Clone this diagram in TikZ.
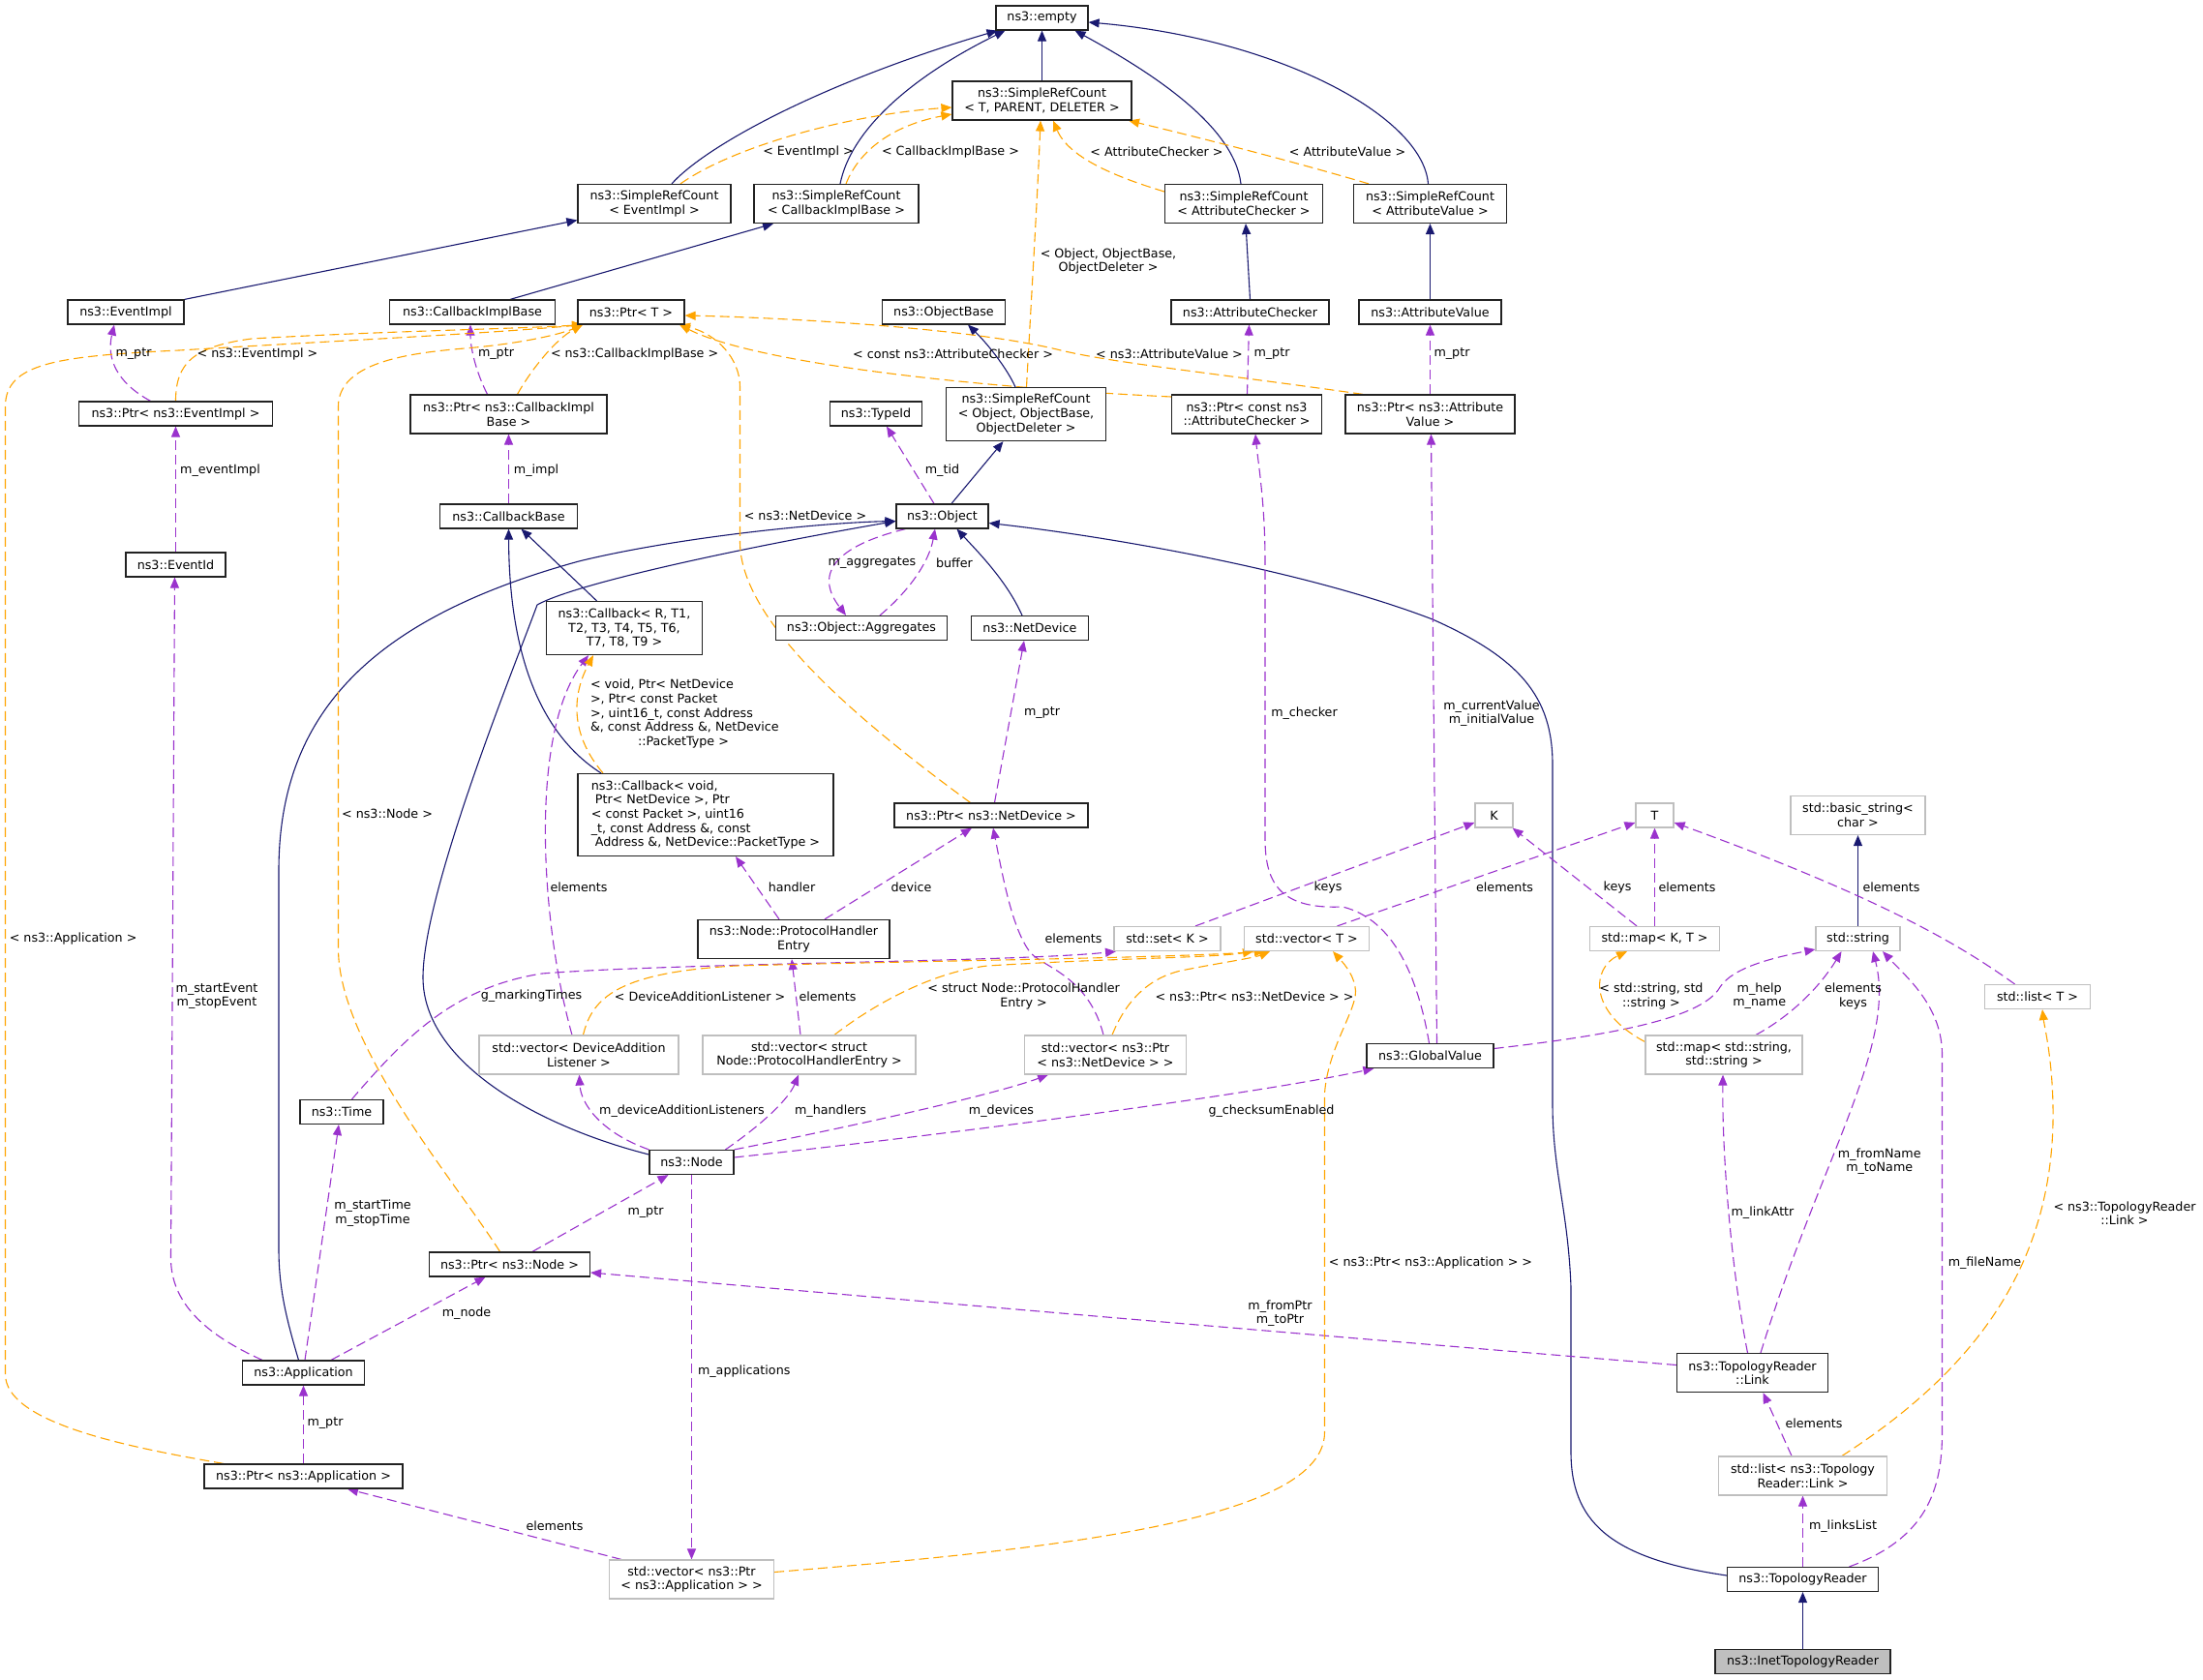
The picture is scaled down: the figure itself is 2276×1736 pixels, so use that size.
\documentclass[tikz,border=0pt]{standalone}
\usepackage{fontspec}
\setmainfont{DejaVu Sans}
\usetikzlibrary{arrows.meta}
\definecolor{eblue}{HTML}{191970}
\definecolor{epurple}{HTML}{9A32CD}
\definecolor{eorange}{HTML}{FFA500}
\definecolor{egray}{HTML}{BFBFBF}
\definecolor{eborder}{HTML}{222222}
\newcommand{\diagfont}{\fontsize{12.7}{14.6}\selectfont}
\pgfdeclarelayer{bglayer}
\pgfdeclarelayer{edgelayer}
\pgfsetlayers{bglayer,edgelayer,main}
\tikzset{
  box/.style={draw=eborder, line width=1.2pt, fill=white, inner sep=0pt, align=center, font=\diagfont},
  gbox/.style={box, draw=egray},
  myarrow/.style={-{Triangle[length=11pt,width=9pt]}},
  inh/.style={draw=eblue, line width=1.1pt, myarrow},
  use/.style={draw=epurple, line width=1.1pt, dash pattern=on 10pt off 5pt, myarrow},
  tpl/.style={draw=eorange, line width=1.1pt, dash pattern=on 10pt off 5pt, myarrow},
  lbl/.style={inner sep=0pt, align=center, font=\diagfont},
}
\begin{document}
\begin{tikzpicture}[x=1pt,y=-1pt]
\useasboundingbox (0,0) rectangle (2276,1736);
\begin{pgfonlayer}{bglayer}
\fill[white] (0,0) rectangle (2276,1736);
\end{pgfonlayer}

% ---------------- nodes ----------------
\node[box,minimum width=95pt,minimum height=25pt] (empty) at (1076.5,18.5) {ns3::empty};
\node[box,minimum width=185pt,minimum height=40pt] (srcT) at (1076.5,104) {ns3::SimpleRefCount\\< T, PARENT, DELETER >};
\node[box,minimum width=158pt,minimum height=40pt] (srcEv) at (676,210.5) {ns3::SimpleRefCount\\< EventImpl >};
\node[box,minimum width=170pt,minimum height=40pt] (srcCb) at (864,210.5) {ns3::SimpleRefCount\\< CallbackImplBase >};
\node[box,minimum width=163pt,minimum height=40pt] (srcAC) at (1285,210.5) {ns3::SimpleRefCount\\< AttributeChecker >};
\node[box,minimum width=158pt,minimum height=40pt] (srcAV) at (1477.5,210.5) {ns3::SimpleRefCount\\< AttributeValue >};
\node[box,minimum width=120pt,minimum height=25pt] (evimpl) at (130,322.5) {ns3::EventImpl};
\node[box,minimum width=171pt,minimum height=25pt] (cbib) at (488,322.5) {ns3::CallbackImplBase};
\node[box,minimum width=110pt,minimum height=25pt] (ptrT) at (652,322.5) {ns3::Ptr< T >};
\node[box,minimum width=127pt,minimum height=25pt] (objbase) at (975,322.5) {ns3::ObjectBase};
\node[box,minimum width=163pt,minimum height=25pt] (ac) at (1291.5,322.5) {ns3::AttributeChecker};
\node[box,minimum width=147pt,minimum height=25pt] (av) at (1477.5,322.5) {ns3::AttributeValue};
\node[box,minimum width=200pt,minimum height=25pt] (ptrEv) at (181.5,427.5) {ns3::Ptr< ns3::EventImpl >};
\node[box,minimum width=203pt,minimum height=40pt] (ptrCb) at (525.5,428) {ns3::Ptr< ns3::CallbackImpl\\Base >};
\node[box,minimum width=95pt,minimum height=25pt] (typeid) at (905,427.5) {ns3::TypeId};
\node[box,minimum width=165pt,minimum height=55pt] (srcObj) at (1060,428) {ns3::SimpleRefCount\\< Object, ObjectBase,\\ObjectDeleter >};
\node[box,minimum width=155pt,minimum height=40pt] (ptrAC) at (1288,428) {ns3::Ptr< const ns3\\::AttributeChecker >};
\node[box,minimum width=175pt,minimum height=40pt] (ptrAV) at (1477.5,428) {ns3::Ptr< ns3::Attribute\\Value >};
\node[box,minimum width=142pt,minimum height=25pt] (cbbase) at (525.5,533.5) {ns3::CallbackBase};
\node[box,minimum width=95pt,minimum height=25pt] (object) at (973.5,533.5) {ns3::Object};
\node[box,minimum width=103pt,minimum height=25pt] (eventid) at (181.5,583.5) {ns3::EventId};
\node[box,minimum width=161pt,minimum height=55pt] (cbR) at (645,649) {ns3::Callback< R, T1,\\T2, T3, T4, T5, T6,\\T7, T8, T9 >};
\node[box,minimum width=177pt,minimum height=25pt] (aggr) at (890,649) {ns3::Object::Aggregates};
\node[box,minimum width=121pt,minimum height=25pt] (netdev) at (1064,649) {ns3::NetDevice};
\node[box,align=left,minimum width=264pt,minimum height=85pt] (cbVoid) at (729,842) {ns3::Callback< void,\\\hspace*{4pt}Ptr< NetDevice >, Ptr\\< const Packet >, uint16\\\_t, const Address \&, const\\\hspace*{4pt}Address \&, NetDevice::PacketType >};
\node[box,minimum width=200pt,minimum height=25pt] (ptrND) at (1024,842.5) {ns3::Ptr< ns3::NetDevice >};
\node[gbox,minimum width=39pt,minimum height=25pt] (nK) at (1543.5,842.5) {K};
\node[gbox,minimum width=39pt,minimum height=25pt] (nT) at (1709.5,842.5) {T};
\node[gbox,minimum width=139pt,minimum height=40pt] (basicstr) at (1919.5,842.5) {std::basic\_string<\\char >};
\node[box,minimum width=198pt,minimum height=40pt] (phe) at (820,970.5) {ns3::Node::ProtocolHandler\\Entry};
\node[gbox,minimum width=110pt,minimum height=25pt] (setK) at (1206,970) {std::set< K >};
\node[gbox,minimum width=129pt,minimum height=25pt] (vecT) at (1350,970) {std::vector< T >};
\node[gbox,minimum width=134pt,minimum height=25pt] (mapKT) at (1709.5,970) {std::map< K, T >};
\node[gbox,minimum width=87pt,minimum height=25pt] (nString) at (1919.5,970) {std::string};
\node[gbox,minimum width=109pt,minimum height=25pt] (listT) at (2105,1030) {std::list< T >};
\node[gbox,minimum width=206pt,minimum height=40pt] (vecDAL) at (598,1090) {std::vector< DeviceAddition\\Listener >};
\node[gbox,minimum width=220pt,minimum height=40pt] (vecPHE) at (836,1090) {std::vector< struct\\Node::ProtocolHandlerEntry >};
\node[gbox,minimum width=167pt,minimum height=40pt] (vecND) at (1142,1090) {std::vector< ns3::Ptr\\< ns3::NetDevice > >};
\node[box,minimum width=131pt,minimum height=25pt] (globalv) at (1477.5,1091) {ns3::GlobalValue};
\node[gbox,minimum width=162pt,minimum height=40pt] (mapSS) at (1781,1090) {std::map< std::string,\\std::string >};
\node[box,minimum width=86pt,minimum height=25pt] (nTime) at (353,1149) {ns3::Time};
\node[box,minimum width=87pt,minimum height=25pt] (nNode) at (714.5,1201) {ns3::Node};
\node[box,minimum width=166pt,minimum height=25pt] (ptrNode) at (526.5,1306.5) {ns3::Ptr< ns3::Node >};
\node[box,minimum width=126pt,minimum height=25pt] (app) at (313.5,1418.5) {ns3::Application};
\node[box,minimum width=156pt,minimum height=40pt] (nLink) at (1810.5,1418.5) {ns3::TopologyReader\\::Link};
\node[box,minimum width=205pt,minimum height=25pt] (ptrApp) at (313.5,1525.5) {ns3::Ptr< ns3::Application >};
\node[gbox,minimum width=174pt,minimum height=40pt] (listLink) at (1862.5,1525) {std::list< ns3::Topology\\Reader::Link >};
\node[gbox,minimum width=170pt,minimum height=40pt] (vecApp) at (714.5,1632) {std::vector< ns3::Ptr\\< ns3::Application > >};
\node[box,minimum width=156pt,minimum height=25pt] (topo) at (1862.5,1632) {ns3::TopologyReader};
\node[box,fill=egray,minimum width=181pt,minimum height=25pt] (inet) at (1862.5,1717) {ns3::InetTopologyReader};

% ---------------- edges ----------------
\begin{pgfonlayer}{edgelayer}
% inheritance
\draw[inh] ([xshift=18pt]srcEv.north) .. controls (730,150) and (850,85) .. ([xshift=-46pt]empty.south);
\draw[inh] ([xshift=4pt]srcCb.north) .. controls (880,130) and (950,75) .. ([xshift=-38pt]empty.south);
\draw[inh] (srcT.north) -- (empty.south);
\draw[inh] ([xshift=-3pt]srcAC.north) .. controls (1275,130) and (1190,75) .. ([xshift=34pt]empty.south);
\draw[inh] ([xshift=-2pt]srcAV.north) .. controls (1470,120) and (1320,40) .. ([yshift=-4.5pt]empty.east);
\draw[inh] (evimpl.north east) -- ([yshift=-17pt]srcEv.west);
\draw[inh] ([xshift=39pt]cbib.north) -- ([xshift=-65pt]srcCb.south);
\draw[inh] (ac.north) -- ([xshift=2pt]srcAC.south);
\draw[inh] (av.north) -- (srcAV.south);
\draw[inh] ([xshift=-11pt]srcObj.north) .. controls (1040,380) and (1020,355) .. ([xshift=25pt]objbase.south);
\draw[inh] ([xshift=9.5pt]object.north) -- ([xshift=-23.5pt]srcObj.south);
\draw[inh] ([xshift=-28.5pt]cbR.north) -- ([xshift=13pt]cbbase.south);
\draw[inh] ([xshift=-108pt]cbVoid.north) .. controls (560,760) and (526,680) .. (cbbase.south);
\draw[inh] ([xshift=-8pt]netdev.north) .. controls (1040,600) and (1010,570) .. ([xshift=15pt]object.south);
\draw[inh] ([yshift=8pt]nNode.west) .. controls (560,1165) and (437,1100) .. (437,1010) .. controls (437,920) and (535,680) .. (555,625) .. controls (600,600) and (800,560) .. ([yshift=-5pt]object.west);
\draw[inh] ([xshift=-5pt]app.north) .. controls (295,1360) and (288,1330) .. (288,1290) -- (288,900) .. controls (288,740) and (380,640) .. (598,580) .. controls (700,555) and (850,540) .. ([yshift=-5pt]object.west);
\draw[inh] ([yshift=4pt]topo.west) .. controls (1660,1610) and (1623,1570) .. (1623,1500) -- (1623,1330) .. controls (1620,1250) and (1604,1210) .. (1604,1140) -- (1604,790) .. controls (1604,720) and (1570,680) .. (1480,640) .. controls (1350,590) and (1150,555) .. ([yshift=-7pt]object.east);
\draw[inh] (nString.north) -- (basicstr.south);
\draw[inh] (inet.north) -- (topo.south);

% usage
\draw[use] ([xshift=-26pt]ptrEv.north) .. controls (120,395) and (110,370) .. ([xshift=-12pt]evimpl.south);
\draw[use] (eventid.north) -- (ptrEv.south);
\draw[use] ([xshift=-22pt]ptrCb.north) .. controls (492,385) and (486,360) .. ([xshift=-2pt]cbib.south);
\draw[use] (cbbase.north) -- (ptrCb.south);
\draw[use] ([xshift=-8.5pt]object.north) -- ([xshift=11pt]typeid.south);
\draw[use] ([xshift=-38pt]object.south) .. controls (880,560) and (835,585) .. ([xshift=-16pt]aggr.north);
\draw[use] ([xshift=19pt]aggr.north) .. controls (940,610) and (960,580) .. ([xshift=-7.5pt]object.south);
\draw[use] ([xshift=0.5pt]ptrAC.north) -- ([xshift=-1pt]ac.south);
\draw[use] (ptrAV.north) -- (av.south);
\draw[use] ([xshift=3.5pt]ptrND.north) -- ([xshift=-6pt]netdev.south);
\draw[use] ([xshift=-1pt]globalv.north) .. controls (1465,1010) and (1440,950) .. (1387,937) .. controls (1320,940) and (1307,910) .. (1307,866) -- (1307,580) .. controls (1307,520) and (1300,480) .. ([xshift=9pt]ptrAC.south);
\draw[use] ([xshift=7pt]globalv.north) -- ([xshift=1pt]ptrAV.south);
\draw[use] ([xshift=-7pt]vecDAL.north) .. controls (560,960) and (545,760) .. ([xshift=-37pt]cbR.south);
\draw[use] ([xshift=-15pt]phe.north) -- ([xshift=31pt]cbVoid.south);
\draw[use] ([xshift=32pt]phe.north) -- ([xshift=-20pt]ptrND.south);
\draw[use] ([xshift=-9pt]vecPHE.north) -- ([xshift=-2pt]phe.south);
\draw[use] ([xshift=-2pt]vecND.north) .. controls (1125,1010) and (1080,1000) .. (1065,985) .. controls (1045,960) and (1035,900) .. ([xshift=2pt]ptrND.south);
\draw[use] ([xshift=29pt]setK.north) -- ([yshift=-7.5pt]nK.west);
\draw[use] ([xshift=31.5pt]vecT.north) -- ([yshift=-7.5pt]nT.west);
\draw[use] ([xshift=-18.5pt]mapKT.north) -- ([xshift=-1pt]nK.south east);
\draw[use] (mapKT.north) -- (nT.south);
\draw[use] ([xshift=-23.5pt]listT.north) .. controls (2030,980) and (1950,930) .. ([yshift=-7.5pt]nT.east);
\draw[use] ([yshift=7.5pt]globalv.east) .. controls (1680,1068) and (1760,1050) .. (1777,1020) .. controls (1790,1000) and (1830,990) .. ([yshift=-11pt]nString.west);
\draw[use] ([xshift=33pt]mapSS.north) .. controls (1850,1050) and (1880,1020) .. ([xshift=-17pt]nString.south);
\draw[use] ([xshift=10.5pt]nTime.north) .. controls (420,1070) and (470,1020) .. (560,1006) .. controls (700,995) and (1050,994) .. ([xshift=-53pt]setK.south);
\draw[use] (nNode.north west) .. controls (620,1170) and (600,1140) .. ([xshift=0.5pt]vecDAL.south);
\draw[use] ([xshift=35pt]nNode.north) .. controls (790,1160) and (815,1135) .. ([xshift=-11pt]vecPHE.south);
\draw[use] (nNode.north east) .. controls (900,1160) and (1030,1130) .. ([xshift=-59pt]vecND.south);
\draw[use] ([yshift=5pt]nNode.east) .. controls (1000,1170) and (1300,1130) .. ([xshift=8pt]globalv.south west);
\draw[use] (nNode.south) -- (vecApp.north);
\draw[use] ([xshift=23.5pt]ptrNode.north) -- ([xshift=-24pt]nNode.south);
\draw[use] ([xshift=28.5pt]app.north) -- ([xshift=-25pt]ptrNode.south);
\draw[use] ([xshift=1.5pt]app.north) -- ([xshift=-3pt]nTime.south);
\draw[use] ([xshift=-42.5pt]app.north) .. controls (210,1378) and (176.5,1345) .. (176.5,1300) -- ([xshift=-1pt]eventid.south);
\draw[use] (ptrApp.north) -- (app.south);
\draw[use] ([xshift=-72.5pt]vecApp.north) -- ([xshift=45.5pt]ptrApp.south);
\draw[use] ([xshift=-5pt]nLink.north) .. controls (1790,1320) and (1779,1200) .. ([xshift=-1pt]mapSS.south);
\draw[use] ([xshift=8.5pt]nLink.north) .. controls (1880,1200) and (1960,1080) .. ([xshift=15.5pt]nString.south);
\draw[use] ([xshift=48pt]topo.north) .. controls (1990,1590) and (2006.5,1540) .. (2006.5,1480) -- (2006.5,1090) .. controls (2006.5,1040) and (1970,1010) .. ([xshift=25.5pt]nString.south);
\draw[use] ([xshift=-11.5pt]listLink.north) -- ([xshift=11pt]nLink.south);
\draw[use] (topo.north) -- (listLink.south);
\draw[use] ([yshift=8pt]nLink.west) .. controls (1300,1375) and (900,1340) .. ([yshift=-8.5pt]ptrNode.east);

% template instances
\draw[tpl] ([xshift=0.5pt]srcObj.north) .. controls (1066,300) and (1072,200) .. ([xshift=-1.5pt]srcT.south);
\draw[tpl] ([xshift=27pt]srcEv.north) .. controls (760,150) and (880,118) .. ([yshift=-7pt]srcT.west);
\draw[tpl] ([xshift=10pt]srcCb.north) .. controls (890,150) and (930,128) .. ([yshift=-14pt]srcT.west);
\draw[tpl] ([yshift=12.5pt]srcAC.west) .. controls (1160,185) and (1105,165) .. ([xshift=11.5pt]srcT.south);
\draw[tpl] ([xshift=-63.5pt]srcAV.north) .. controls (1330,165) and (1230,140) .. ([xshift=89.5pt]srcT.south);
\draw[tpl] (ptrEv.north) .. controls (181.5,375) and (200,358) .. (260,350) .. controls (400,342) and (530,340) .. ([xshift=-50pt]ptrT.south);
\draw[tpl] ([xshift=9pt]ptrCb.north) .. controls (550,380) and (575,350) .. ([xshift=-50pt]ptrT.south);
\draw[tpl] ([yshift=18pt]ptrAC.west) .. controls (1000,400) and (780,375) .. ([xshift=50pt]ptrT.south);
\draw[tpl] ([xshift=-69.5pt]ptrAV.north) .. controls (1250,385) and (1150,375) .. (1096,362) .. controls (1000,338) and (800,328) .. ([yshift=-3.5pt]ptrT.east);
\draw[tpl] ([xshift=-21.5pt]ptrND.north) .. controls (880,740) and (764.5,640) .. (764.5,560) -- (764.5,400) .. controls (764.5,370) and (740,345) .. ([xshift=50pt]ptrT.south);
\draw[tpl] ([xshift=-10pt]ptrNode.north) .. controls (470,1220) and (349.5,1080) .. (349.5,980) -- (349.5,420) .. controls (349.5,375) and (420,365) .. (480,360) .. controls (540,355) and (580,345) .. ([xshift=-50pt]ptrT.south);
\draw[tpl] ([xshift=-82.5pt]ptrApp.north) .. controls (130,1495) and (5.5,1470) .. (5.5,1420) -- (5.5,420) .. controls (5.5,375) and (60,368) .. (185,362) .. controls (350,352) and (500,345) .. ([xshift=-50pt]ptrT.south);
\draw[tpl] ([xshift=-106pt]cbVoid.north) .. controls (590,760) and (590,720) .. ([xshift=-32pt]cbR.south);
\draw[tpl] ([xshift=4.5pt]vecDAL.north) .. controls (612,1030) and (640,1005) .. (760,998) .. controls (1000,992) and (1200,990) .. ([xshift=-43pt]vecT.south);
\draw[tpl] ([xshift=26pt]vecPHE.north) .. controls (900,1040) and (960,1005) .. (1020,998) .. controls (1150,990) and (1250,990) .. ([xshift=-55pt]vecT.south);
\draw[tpl] ([xshift=7pt]vecND.north) .. controls (1165,1030) and (1190,1010) .. (1220,1003) .. controls (1260,995) and (1295,990) .. ([xshift=-38pt]vecT.south);
\draw[tpl] ([yshift=7.5pt]vecApp.east) .. controls (1100,1600) and (1368.5,1570) .. (1368.5,1480) -- (1368.5,1130) .. controls (1372,1080) and (1405,1040) .. (1400,1020) .. controls (1398,1005) and (1385,992) .. ([xshift=27pt]vecT.south);
\draw[tpl] ([yshift=13.5pt]mapSS.west) .. controls (1640,1045) and (1645,1000) .. ([xshift=-28.5pt]mapKT.south);
\draw[tpl] ([xshift=40.5pt]listLink.north) .. controls (2050,1410) and (2118,1300) .. (2121,1160) .. controls (2122,1100) and (2112,1060) .. ([xshift=5pt]listT.south);
\end{pgfonlayer}

% ---------------- labels ----------------
\node[lbl] (l01) at (835,156.5) {< EventImpl >};
\node[lbl] (l02) at (982,156.5) {< CallbackImplBase >};
\node[lbl] (l03) at (1195,156.5) {< AttributeChecker >};
\node[lbl] (l04) at (1392,156.5) {< AttributeValue >};
\node[lbl] (l05) at (1145,270) {< Object, ObjectBase,\\ObjectDeleter >};
\node[lbl] (l06) at (138,366) {m\_ptr};
\node[lbl] (l07) at (266,366) {< ns3::EventImpl >};
\node[lbl] (l08) at (512.5,366) {m\_ptr};
\node[lbl] (l09) at (655.6,366) {< ns3::CallbackImplBase >};
\node[lbl] (l10) at (984.5,366) {< const ns3::AttributeChecker >};
\node[lbl] (l11) at (1208,366) {< ns3::AttributeValue >};
\node[lbl] (l12) at (1314,366) {m\_ptr};
\node[lbl] (l13) at (1500,366) {m\_ptr};
\node[lbl] (l14) at (227.5,486.4) {m\_eventImpl};
\node[lbl] (l15) at (554,486.4) {m\_impl};
\node[lbl] (l16) at (973.5,486) {m\_tid};
\node[lbl] (l17) at (832,533) {< ns3::NetDevice >};
\node[lbl] (l18) at (901,582) {m\_aggregates};
\node[lbl] (l19) at (986,582) {buffer};
\node[lbl,anchor=west,align=left] (l20) at (609.8,737.6) {< void, Ptr< NetDevice\\>, Ptr< const Packet\\>, uint16\_t, const Address\\\&, const Address \&, NetDevice\\\hspace*{49pt}::PacketType >};
\node[lbl] (l21) at (1076.5,737) {m\_ptr};
\node[lbl] (l22) at (1347.5,737) {m\_checker};
\node[lbl] (l23) at (1541,737) {m\_currentValue\\m\_initialValue};
\node[lbl] (l24) at (400,841) {< ns3::Node >};
\node[lbl] (l25) at (598,917) {elements};
\node[lbl] (l26) at (818,917) {handler};
\node[lbl] (l27) at (941.5,917) {device};
\node[lbl] (l28) at (1372,917) {keys};
\node[lbl] (l29) at (1554.6,917) {elements};
\node[lbl] (l30) at (1671,917) {keys};
\node[lbl] (l31) at (1743,917) {elements};
\node[lbl] (l32) at (1954,917) {elements};
\node[lbl] (l33) at (75.6,969.5) {< ns3::Application >};
\node[lbl] (l34) at (1109,969.5) {elements};
\node[lbl] (l35) at (224,1029.5) {m\_startEvent\\m\_stopEvent};
\node[lbl] (l36) at (549,1029.6) {g\_markingTimes};
\node[lbl] (l37) at (723,1029.6) {< DeviceAdditionListener >};
\node[lbl] (l38) at (855,1029.6) {elements};
\node[lbl] (l39) at (1057.6,1029.3) {< struct Node::ProtocolHandler\\Entry >};
\node[lbl] (l40) at (1296,1029.6) {< ns3::Ptr< ns3::NetDevice > >};
\node[lbl] (l41) at (1706,1029.3) {< std::string, std\\::string >};
\node[lbl] (l42) at (1817.7,1029.3) {m\_help\\m\_name};
\node[lbl] (l43) at (1914.5,1029.3) {elements\\keys};
\node[lbl] (l44) at (704.5,1148) {m\_deviceAdditionListeners};
\node[lbl] (l45) at (858,1148) {m\_handlers};
\node[lbl] (l46) at (1034.5,1148) {m\_devices};
\node[lbl] (l47) at (1313.5,1148) {g\_checksumEnabled};
\node[lbl] (l48) at (1941.7,1200) {m\_fromName\\m\_toName};
\node[lbl] (l49) at (667,1253) {m\_ptr};
\node[lbl] (l50) at (385,1253.5) {m\_startTime\\m\_stopTime};
\node[lbl] (l51) at (1821,1253) {m\_linkAttr};
\node[lbl] (l52) at (2195,1253.5) {< ns3::TopologyReader\\::Link >};
\node[lbl] (l53) at (1478,1305) {< ns3::Ptr< ns3::Application > >};
\node[lbl] (l54) at (2050.5,1305) {m\_fileName};
\node[lbl] (l55) at (1322.5,1357) {m\_fromPtr\\m\_toPtr};
\node[lbl] (l56) at (482,1357.4) {m\_node};
\node[lbl] (l57) at (768.7,1417.5) {m\_applications};
\node[lbl] (l58) at (336,1470.7) {m\_ptr};
\node[lbl] (l59) at (1874,1470.7) {elements};
\node[lbl] (l60) at (573,1577) {elements};
\node[lbl] (l61) at (1904,1577) {m\_linksList};
\end{tikzpicture}
\end{document}
